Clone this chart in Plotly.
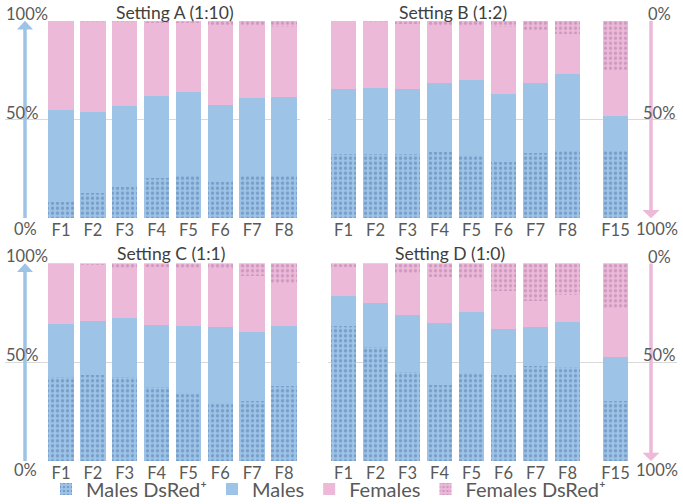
import plotly.graph_objects as go

W, H = 683, 504

gens_left = ["F1", "F2", "F3", "F4", "F5", "F6", "F7", "F8"]
gens_right = ["F1", "F2", "F3", "F4", "F5", "F6", "F7", "F8", "F15"]

# Setting A (1:10): percentages per generation
A_males_ds = [8.0, 12.6, 15.7, 20.2, 21.4, 18.5, 21.8, 22.1]
A_males = [47.0, 41.2, 41.1, 41.7, 42.7, 38.7, 39.2, 39.3]
A_females = [45.0, 45.7, 42.7, 37.1, 34.6, 40.6, 36.3, 35.6]
A_females_ds = [0.0, 0.5, 0.5, 1.0, 1.3, 2.2, 2.7, 3.0]

# Setting B (1:2)
B_males_ds = [32.5, 32.5, 32.5, 33.4, 32.0, 28.3, 33.2, 34.2, 34.2]
B_males = [32.9, 33.6, 32.8, 34.9, 38.0, 34.4, 35.1, 38.8, 17.7]
B_females = [34.6, 33.4, 33.0, 29.0, 27.3, 34.3, 26.7, 20.3, 22.8]
B_females_ds = [0.0, 0.5, 1.7, 2.7, 2.7, 3.0, 5.0, 6.7, 25.3]

# Setting C (1:1)
C_males_ds = [42.3, 43.5, 42.7, 37.6, 33.9, 29.5, 30.4, 37.9]
C_males = [26.8, 27.5, 29.8, 31.2, 34.4, 38.1, 35.0, 30.6]
C_females = [30.9, 28.2, 25.0, 29.2, 29.2, 29.4, 28.2, 21.0]
C_females_ds = [0.0, 0.8, 2.5, 2.0, 2.5, 3.0, 6.4, 10.5]

# Setting D (1:0)
D_males_ds = [68.3, 57.5, 45.2, 38.4, 44.4, 43.5, 48.1, 47.7, 30.4]
D_males = [15.2, 22.6, 28.7, 31.2, 31.1, 23.3, 19.5, 22.8, 22.4]
D_females = [14.8, 19.9, 21.1, 23.7, 16.5, 19.4, 13.5, 13.5, 24.4]
D_females_ds = [1.7, 0.0, 5.0, 6.7, 8.0, 13.8, 18.9, 16.0, 22.8]

series_names = ["Males DsRed⁺", "Males", "Females", "Females DsRed⁺"]
titles = ["Setting A (1:10)", "Setting B (1:2)", "Setting C (1:1)", "Setting D (1:0)"]

BLUE = "#9DC3E6"
PINK = "#EDB9D8"
BLUE_FG = "#5677AE"
PINK_FG = "#B07AA8"
GRAY = "#595959"
GRID = "#D9D9D9"
FONT = "Lato, 'DejaVu Sans', sans-serif"


def px(x):
    return x / W


def py(y):
    return 1 - y / H


def xpos(labels):
    # F15 is set apart from F8 by an extra half-slot gap
    out = []
    for i, lab in enumerate(labels):
        out.append(i + 0.5 if lab == "F15" else i)
    return out


panels = [
    (gens_left, [A_males_ds, A_males, A_females, A_females_ds], "x", "y"),
    (gens_right, [B_males_ds, B_males, B_females, B_females_ds], "x2", "y2"),
    (gens_left, [C_males_ds, C_males, C_females, C_females_ds], "x3", "y3"),
    (gens_right, [D_males_ds, D_males, D_females, D_females_ds], "x4", "y4"),
]

styles = [
    dict(color=BLUE, pattern=dict(shape=".", fgcolor=BLUE_FG, size=5, solidity=0.35)),
    dict(color=BLUE),
    dict(color=PINK),
    dict(color=PINK, pattern=dict(shape=".", fgcolor=PINK_FG, size=5, solidity=0.35)),
]

fig = go.Figure()
for pi, (labels, vals, xa, ya) in enumerate(panels):
    xs = xpos(labels)
    for si, v in enumerate(vals):
        fig.add_trace(go.Bar(
            x=xs, y=v, name=series_names[si], xaxis=xa, yaxis=ya,
            width=0.8, marker=dict(line=dict(width=0), **styles[si]),
            legendgroup=str(si), showlegend=(pi == 0),
            hovertemplate="%{y:.1f}%<extra></extra>",
        ))

# axis geometry (pixels)
left_dom = [px(5), px(300)]
right_dom = [px(328), px(677)]
top_dom = [py(218.3), py(20.7)]
bot_dom = [py(461), py(263.3)]
left_range = [(5 - 61) / 31.86, (300 - 61) / 31.86]
right_range = [(328 - 343.5) / 32, (677 - 343.5) / 32]

tickfont = dict(family=FONT, size=16.5, color=GRAY)


def xaxis(dom, rng, labels):
    return dict(domain=dom, range=rng, tickmode="array", tickvals=xpos(labels),
                ticktext=labels, showgrid=False, zeroline=False, showline=False,
                ticks="", tickfont=tickfont, fixedrange=True, automargin=False)


def yaxis(dom, anchor):
    return dict(domain=dom, range=[0, 100], tickmode="array", tickvals=[0, 50, 100],
                showticklabels=False, showgrid=True, gridcolor=GRID, gridwidth=1.2,
                zeroline=False, showline=False, anchor=anchor, fixedrange=True,
                automargin=False)


fig.update_layout(
    width=W, height=H, margin=dict(l=0, r=0, t=0, b=0, autoexpand=False),
    paper_bgcolor="white", plot_bgcolor="white", barmode="stack",
    font=dict(family=FONT, color=GRAY, size=16.5),
    xaxis=dict(**xaxis(left_dom, left_range, gens_left), anchor="y"),
    yaxis=yaxis(top_dom, "x"),
    xaxis2=dict(**xaxis(right_dom, right_range, gens_right), anchor="y2"),
    yaxis2=yaxis(top_dom, "x2"),
    xaxis3=dict(**xaxis(left_dom, left_range, gens_left), anchor="y3"),
    yaxis3=yaxis(bot_dom, "x3"),
    xaxis4=dict(**xaxis(right_dom, right_range, gens_right), anchor="y4"),
    yaxis4=yaxis(bot_dom, "x4"),
    legend=dict(orientation="h", x=px(46), xanchor="left", y=py(489), yanchor="middle",
                font=dict(family=FONT, size=20, color=GRAY), itemwidth=30,
                bgcolor="rgba(0,0,0,0)", traceorder="normal"),
    showlegend=True,
)

annotations = []
# titles
for t, (cx, cy) in zip(titles, [(175, 12), (453, 12), (171, 253), (450, 253)]):
    annotations.append(dict(text=t, x=px(cx), y=py(cy), xref="paper", yref="paper",
                            xanchor="center", yanchor="middle", showarrow=False,
                            font=dict(family=FONT, size=17.5, color="#404040")))
# percent labels, left panels (rising scale)
for txt, x, y, anc in [("100%", 4, 14, "left"), ("50%", 4, 113, "left"), ("0%", 25, 229, "center"),
                       ("100%", 4, 256, "left"), ("50%", 4, 355, "left"), ("0%", 25, 470, "center")]:
    annotations.append(dict(text=txt, x=px(x), y=py(y), xref="paper", yref="paper",
                            xanchor=anc, yanchor="middle", showarrow=False,
                            font=dict(family=FONT, size=16.5, color=GRAY)))
# percent labels, right panels (descending scale for females)
for txt, x, y in [("0%", 673, 14), ("50%", 677, 113), ("100%", 680, 229),
                  ("0%", 673, 257), ("50%", 677, 355), ("100%", 680, 470)]:
    annotations.append(dict(text=txt, x=px(x), y=py(y), xref="paper", yref="paper",
                            xanchor="right", yanchor="middle", showarrow=False,
                            font=dict(family=FONT, size=16.5, color=GRAY)))
fig.update_layout(annotations=annotations)

# decorative arrows
shapes = []
ax_left = (25 - 61) / 31.86
hw_left = 8 / 31.86
ax_right = (651 - 343.5) / 32
hw_right = 8.5 / 32
for xr, yr in [("x", "y"), ("x3", "y3")]:
    shapes.append(dict(type="line", xref=xr, yref=yr, x0=ax_left, x1=ax_left, y0=0, y1=96,
                       line=dict(color=BLUE, width=3.5)))
    shapes.append(dict(type="path", xref=xr, yref=yr,
                       path=f"M {ax_left - hw_left},95.6 L {ax_left + hw_left},95.6 L {ax_left},100 Z",
                       fillcolor=BLUE, line=dict(width=0)))
for xr, yr in [("x2", "y2"), ("x4", "y4")]:
    shapes.append(dict(type="line", xref=xr, yref=yr, x0=ax_right, x1=ax_right, y0=100, y1=3.5,
                       line=dict(color=PINK, width=3.5)))
    shapes.append(dict(type="path", xref=xr, yref=yr,
                       path=f"M {ax_right - hw_right},4.2 L {ax_right + hw_right},4.2 L {ax_right},0 Z",
                       fillcolor=PINK, line=dict(width=0)))
fig.update_layout(shapes=shapes)

fig.write_html(
    "out.html",
    config={"displayModeBar": False},
    post_script="document.body.style.margin='0';document.body.style.padding='0';",
)
